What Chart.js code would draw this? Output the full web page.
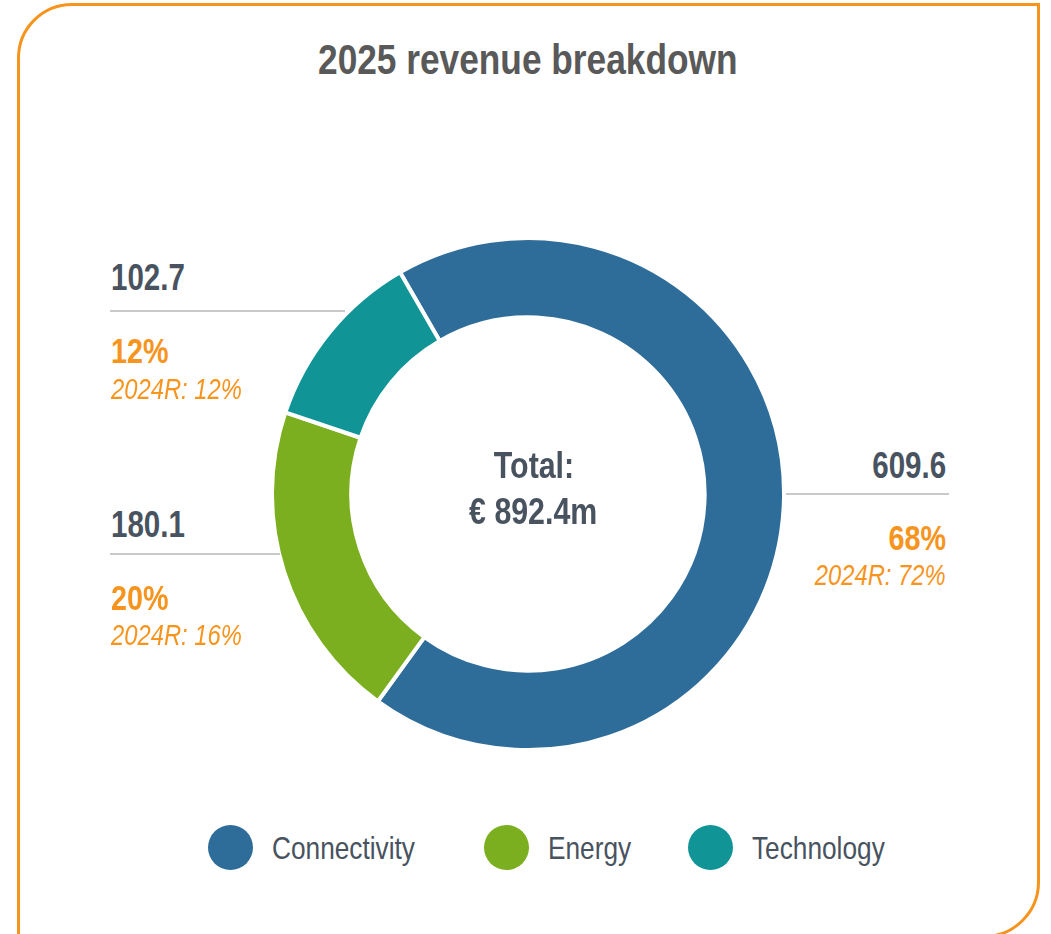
<!DOCTYPE html>
<html>
<head>
<meta charset="utf-8">
<title>2025 revenue breakdown</title>
<script src="https://cdn.jsdelivr.net/npm/chart.js@4.4.1/dist/chart.umd.min.js"></script>
<style>
    html, body { margin: 0; padding: 0; background: #fff; width: 1051px; height: 934px; overflow: hidden; }
    body { position: relative; font-family: "Liberation Sans", Arial, sans-serif; color: #48535f; }

    /* the source uses a condensed face; squeeze the regular one to match */
    .narrow { display: inline-block; transform: scaleX(0.82); transform-origin: left center; }
    .align-right .narrow { transform-origin: right center; }
    .align-center .narrow { transform-origin: center center; }

    .frame {
        position: absolute; left: 17px; top: 3px; width: 1023px; height: 935px;
        box-sizing: border-box; border: 3px solid #f7941d; border-radius: 55px 0 56px 0;
    }
    .title {
        position: absolute; left: 0; width: 1056px; top: 38px; margin: 0;
        text-align: center; font-size: 43px; font-weight: bold; color: #595959; line-height: 1;
    }
    #chart-wrap { position: absolute; left: 270px; top: 236px; width: 516px; height: 516px; }

    .txt { position: absolute; line-height: 1; white-space: nowrap; }
    .val   { font-size: 36px; font-weight: bold; color: #48535f; }
    .share { font-size: 35px; font-weight: bold; color: #f7941d; }
    .prior { font-size: 29px; font-style: italic; color: #f7941d; }
    .rule  { position: absolute; height: 2px; background: #c9c9c9; }

    .total { position: absolute; left: 0; width: 1067px; text-align: center; font-size: 37px; font-weight: bold; line-height: 1; color: #48535f; }

    #legend { position: absolute; left: 208px; top: 825px; display: flex; align-items: center; }
    .leg-item { display: flex; align-items: center; }
    .leg-dot { width: 45px; height: 45px; border-radius: 50%; }
    .leg-text { margin-left: 19px; font-size: 32px; line-height: 1; color: #48535f; white-space: nowrap; }
</style>
</head>
<body>
<div class="frame"></div>
<h1 class="title align-center"><span class="narrow">2025 revenue breakdown</span></h1>
<div id="chart-wrap"><canvas id="chart-revenue"></canvas></div>
<div id="notes"></div>
<div id="legend"></div>

<script>
// ---- Data (EUR m) ----
const SEGMENTS       = ["Connectivity", "Energy", "Technology"];
const REVENUE_2025   = [609.6, 180.1, 102.7];
const SHARE_2025     = [68, 20, 12];
const SHARE_2024R    = [72, 16, 12];
const SEGMENT_COLORS = ["#2e6c99", "#7baf1f", "#109496"];

// ---- Where each segment's callout sits on the page ----
const NOTE_LAYOUT = {
    "Connectivity": { align: "right", x: 946, valTop: 448, ruleY: 493, ruleFrom: 786, ruleTo: 949, shareTop: 520, priorTop: 561 },
    "Energy":       { align: "left",  x: 111, valTop: 507, ruleY: 553, ruleFrom: 110, ruleTo: 280, shareTop: 580, priorTop: 621 },
    "Technology":   { align: "left",  x: 111, valTop: 260, ruleY: 310, ruleFrom: 110, ruleTo: 345, shareTop: 333, priorTop: 375 }
};
const LEGEND_GAPS = [69, 56];   // space after each legend item
const PAGE_WIDTH = 1051;

function narrowSpan(text) {
    const span = document.createElement("span");
    span.className = "narrow";
    span.textContent = text;
    return span;
}

// ---- Place a piece of text left- or right-aligned at x ----
function addText(parent, cls, text, align, x, top) {
    const el = document.createElement("div");
    el.className = "txt " + cls + " align-" + align;
    el.appendChild(narrowSpan(text));
    el.style.top = top + "px";
    if (align === "right") el.style.right = (PAGE_WIDTH - x) + "px";
    else el.style.left = x + "px";
    parent.appendChild(el);
}

// ---- Callouts: value, rule, share and prior-year share ----
function buildNotes() {
    const notes = document.getElementById("notes");
    SEGMENTS.forEach((name, i) => {
        const pos = NOTE_LAYOUT[name];
        addText(notes, "val", REVENUE_2025[i].toFixed(1), pos.align, pos.x, pos.valTop);

        const rule = document.createElement("div");
        rule.className = "rule";
        rule.style.left = pos.ruleFrom + "px";
        rule.style.width = (pos.ruleTo - pos.ruleFrom) + "px";
        rule.style.top = pos.ruleY + "px";
        notes.appendChild(rule);

        addText(notes, "share", SHARE_2025[i] + "%", pos.align, pos.x, pos.shareTop);
        addText(notes, "prior", "2024R: " + SHARE_2024R[i] + "%", pos.align, pos.x, pos.priorTop);
    });

    // Total in the hole of the doughnut
    const total = REVENUE_2025.reduce((a, b) => a + b, 0);
    [["Total:", 447], ["€ " + total.toFixed(1) + "m", 493]].forEach(([text, top]) => {
        const el = document.createElement("div");
        el.className = "total align-center";
        el.style.top = top + "px";
        el.appendChild(narrowSpan(text));
        notes.appendChild(el);
    });
}

// ---- Legend built from the chart's own labels and colours ----
function buildLegend(chart) {
    const legend = document.getElementById("legend");
    const ds = chart.data.datasets[0];
    chart.data.labels.forEach((label, i) => {
        const item = document.createElement("div");
        item.className = "leg-item";
        const dot = document.createElement("span");
        dot.className = "leg-dot";
        dot.style.background = ds.backgroundColor[i];
        const text = document.createElement("span");
        text.className = "leg-text";
        const inner = narrowSpan(label);
        text.appendChild(inner);
        item.appendChild(dot);
        item.appendChild(text);
        legend.appendChild(item);
        // give back the room the squeeze freed up, then add the gap
        const shrink = inner.offsetWidth - inner.getBoundingClientRect().width;
        text.style.marginRight = ((LEGEND_GAPS[i] || 0) - shrink) + "px";
    });
}

const ctx = document.getElementById("chart-revenue").getContext("2d");
const revenueChart = new Chart(ctx, {
    type: "doughnut",
    data: {
        labels: SEGMENTS,
        datasets: [{
            data: REVENUE_2025,
            backgroundColor: SEGMENT_COLORS,
            borderColor: "#ffffff",
            borderWidth: 4,
            hoverOffset: 0
        }]
    },
    options: {
        responsive: true,
        maintainAspectRatio: false,
        animation: false,
        rotation: -30,
        cutout: "69%",
        layout: { padding: 0 },
        plugins: {
            legend: { display: false },
            tooltip: { enabled: false }
        }
    }
});

buildNotes();
buildLegend(revenueChart);
</script>
</body>
</html>
